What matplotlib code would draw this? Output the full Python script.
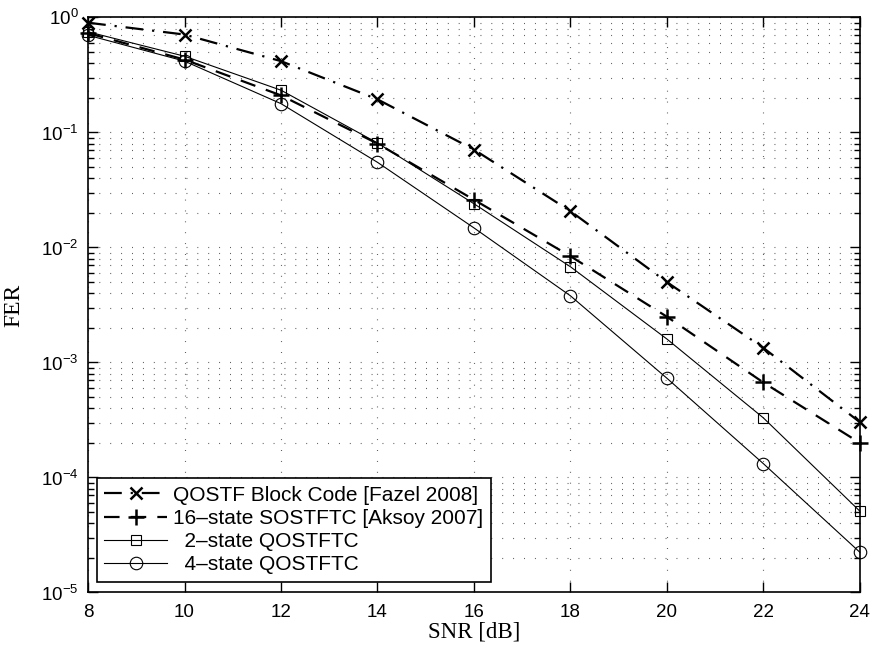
import matplotlib.pyplot as plt
import numpy as np

FIGSIZE = (8.72, 6.51)
DPI = 100

snr = [8, 10, 12, 14, 16, 18, 20, 22, 24]
fer_fazel = [0.90, 0.71, 0.417, 0.194, 0.071, 0.0207, 0.0050, 0.00134, 0.000303]
fer_aksoy = [0.73, 0.43, 0.21, 0.080, 0.026, 0.0084, 0.0025, 0.00067, 0.00020]
fer_2state = [0.75, 0.46, 0.233, 0.081, 0.024, 0.0068, 0.0016, 0.00033, 5.1e-5]
fer_4state = [0.70, 0.417, 0.178, 0.055, 0.0148, 0.0038, 0.00073, 0.000132, 2.24e-5]

labels = ['QOSTF Block Code [Fazel 2008]',
          '16\u2013state SOSTFTC [Aksoy 2007]',
          '  2\u2013state QOSTFTC',
          '  4\u2013state QOSTFTC']
xticks = [8, 10, 12, 14, 16, 18, 20, 22, 24]

plt.rcParams['font.family'] = ['Liberation Sans', 'DejaVu Sans']
plt.rcParams['mathtext.fontset'] = 'custom'
plt.rcParams['mathtext.rm'] = 'Liberation Sans'
plt.rcParams['mathtext.it'] = 'Liberation Sans'

fig = plt.figure(figsize=FIGSIZE, dpi=DPI)
ax = fig.add_axes([0.101, 0.0899, 0.885, 0.8833])

ax.semilogy(snr, fer_fazel, color='k', linestyle=(0, (8, 4, 1, 4)), linewidth=1.6,
            marker='x', markersize=9, markeredgewidth=1.8, label=labels[0], clip_on=False)
ax.semilogy(snr, fer_aksoy, color='k', linestyle=(0, (7, 5)), linewidth=1.6,
            marker='+', markersize=11, markeredgewidth=1.8, label=labels[1], clip_on=False)
ax.semilogy(snr, fer_2state, color='k', linestyle='-', linewidth=0.8,
            marker='s', markersize=7.5, markeredgewidth=0.8, markerfacecolor='none',
            label=labels[2], clip_on=False)
ax.semilogy(snr, fer_4state, color='k', linestyle='-', linewidth=0.8,
            marker='o', markersize=9, markeredgewidth=0.8, markerfacecolor='none',
            label=labels[3], clip_on=False)

ax.set_xlim(8, 24)
ax.set_ylim(1e-5, 1)
ax.set_xticks(xticks)
ax.set_xticklabels([str(t) for t in xticks])

ax.grid(which='major', axis='both', color='0.3', linestyle=(0, (0.8, 9)), linewidth=0.8)
ax.grid(which='minor', axis='y', color='0.3', linestyle=(0, (0.8, 9)), linewidth=0.8)

ax.tick_params(which='both', direction='in', top=True, right=True, labelsize=13.5,
               color='k', width=1)
ax.tick_params(which='major', length=7)
ax.tick_params(which='minor', length=4)
ax.tick_params(axis='x', which='major', pad=8.5)
ax.tick_params(axis='y', which='major', pad=7)
ax.tick_params(axis='x', which='minor', bottom=False, top=False)
for s in ax.spines.values():
    s.set_linewidth(1.2)

ax.set_xlabel('SNR [dB]', family='Liberation Serif', fontsize=16.5, labelpad=0)
ax.set_ylabel('FER', family='Liberation Serif', fontsize=17, labelpad=12)

leg = ax.legend(loc='lower left', bbox_to_anchor=(0.0117, 0.019), borderaxespad=0,
                fontsize=15, fancybox=False, framealpha=1, edgecolor='k',
                handlelength=3.0, handletextpad=0.3, labelspacing=0.2, borderpad=0.35)
leg.get_frame().set_linewidth(1.2)
for ln in leg.get_lines():
    ln.set_clip_on(True)

fig.savefig('out.png', dpi=DPI)
